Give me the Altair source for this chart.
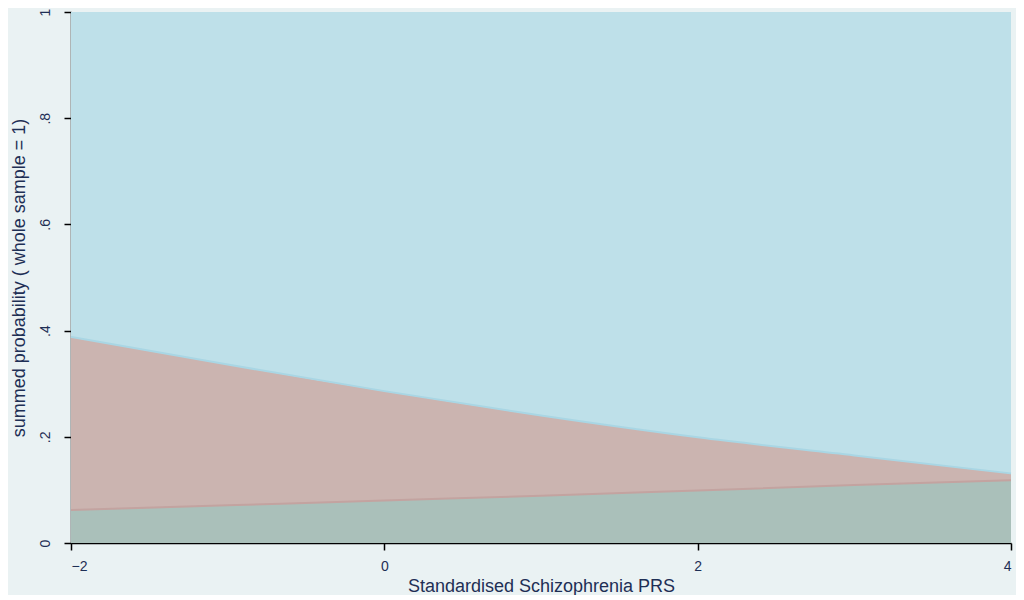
import altair as alt
import pandas as pd

# Standardised PRS values
prs = [-2, -1, 0, 1, 2, 3, 4]
# probability of lowest category (green band)
p_low = [0.062, 0.071, 0.080, 0.089, 0.099, 0.109, 0.118]
# probability of middle category (red band)
p_mid = [0.326, 0.265, 0.206, 0.151, 0.100, 0.056, 0.013]
y_ticks = [0, 0.2, 0.4, 0.6, 0.8, 1]
x_ticks = [-2, 0, 2, 4]

df = pd.DataFrame({"x": prs, "low": p_low, "mid": p_mid})
df["zero"] = 0.0
df["c1"] = df["low"]
df["c2"] = df["low"] + df["mid"]
df["one"] = 1.0

FONT = "Liberation Sans"
TXT = "#1E2F55"
BG = "#EAF2F3"

xs = alt.Scale(domain=[-2, 4], nice=False, zero=False)
ys = alt.Scale(domain=[0, 1], nice=False)

xenc = alt.X("x:Q", scale=xs, axis=alt.Axis(values=x_ticks, title="Standardised Schizophrenia PRS",
                                             format="d", labelPadding=9, titlePadding=4, tickSize=7))
yaxis = alt.Axis(values=y_ticks, title="summed probability ( whole sample = 1)",
                 labelExpr="datum.value == 0 ? '0' : datum.value == 1 ? '1' : replace(format(datum.value, '.1f'), '0.', '.')",
                 labelAngle=270, labelAlign="center", labelBaseline="bottom",
                 labelPadding=12, titlePadding=10, tickSize=7)

base = alt.Chart(df)

blue = base.mark_area(color="#BEE0E9", opacity=1).encode(
    x=xenc, y=alt.Y("one:Q", scale=ys, axis=yaxis), y2="c2:Q")
red = base.mark_area(color="#CBB4B0", opacity=1, interpolate="monotone").encode(
    x="x:Q", y="c2:Q", y2="c1:Q")
green = base.mark_area(color="#AAC0BA", opacity=1, interpolate="monotone").encode(
    x="x:Q", y="c1:Q", y2="zero:Q")
line_top = base.mark_line(color="#A9D6E4", strokeWidth=2, interpolate="monotone").encode(
    x="x:Q", y="c2:Q")
line_low = base.mark_line(color="#C3A3A0", strokeWidth=2, interpolate="monotone").encode(
    x="x:Q", y="c1:Q")

chart = alt.layer(blue, red, green, line_top, line_low).properties(
    width=940, height=531,
    autosize=alt.AutoSizeParams(type="none"),
    padding={"left": 63, "top": 4, "right": 5, "bottom": 52},
    background=BG,
).configure_view(stroke=None).configure_axis(
    grid=False, domainColor="#000000", tickColor="#000000", domainWidth=1.5, tickWidth=1.5,
    labelFont=FONT, titleFont=FONT, labelColor=TXT, titleColor=TXT,
    labelFontSize=14, titleFontSize=18, titleFontWeight="normal",
)

chart.save("out.html", embed_options={"renderer": "svg", "actions": False})
